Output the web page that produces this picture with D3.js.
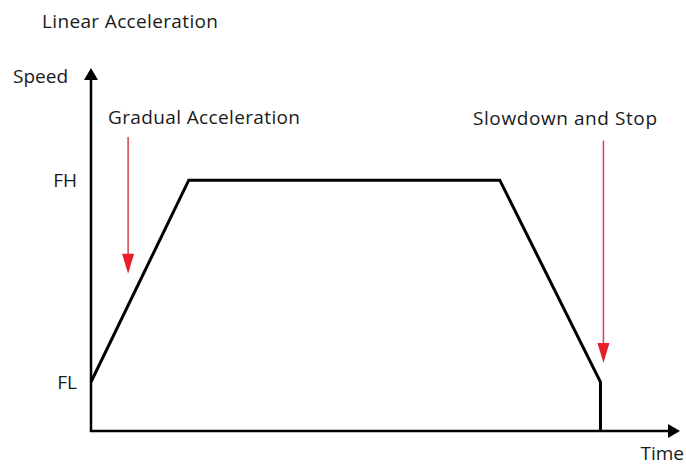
<!DOCTYPE html>
<html>
<head>
<meta charset="utf-8">
<script src="https://cdn.jsdelivr.net/npm/d3@7"></script>
<style>
  body { margin: 0; background: #fff; }
  text { font-family: "Open Sans", "Noto Sans", sans-serif; fill: #1a1a1a; font-size: 19px; }
</style>
</head>
<body>
<svg id="chart"></svg>
<script>
// speed profile (time 0..100, speed 0..100)
const profileTime = [0, 16.6, 69.4, 86.5, 86.5];
const profileSpeed = [13.5, 69.1, 69.1, 13.5, 0];
const tickLabels = ["FL", "FH"];
const tickValues = [13.5, 69.1];
const notes = ["Gradual Acceleration", "Slowdown and Stop"];
const noteTime = [6.3, 87.0];       // x of red arrows
const noteFrom = [81, 80];          // arrow start (speed)
const noteTo = [43.3, 18.7];        // arrow tip (speed)

const W = 686, H = 466;
const svg = d3.select("#chart").attr("width", W).attr("height", H);

const x = d3.scaleLinear().domain([0, 100]).range([91, 680]);
const y = d3.scaleLinear().domain([0, 100]).range([431, 68]);

// title
svg.append("text")
    .attr("x", 42).attr("y", 28)
    .attr("textLength", 176)
    .text("Linear Acceleration");

// axes
svg.append("line")
    .attr("x1", x(0)).attr("x2", x(0))
    .attr("y1", y(0) + 1).attr("y2", y(100) + 10)
    .attr("stroke", "#000").attr("stroke-width", 2.5);
svg.append("path")
    .attr("d", `M${x(0) - 7},${y(100) + 12}L${x(0)},${y(100)}L${x(0) + 7},${y(100) + 12}Z`)
    .attr("fill", "#000");

svg.append("line")
    .attr("x1", x(0) - 1).attr("x2", x(100) - 10)
    .attr("y1", y(0)).attr("y2", y(0))
    .attr("stroke", "#000").attr("stroke-width", 2.5);
svg.append("path")
    .attr("d", `M${x(100) - 12},${y(0) - 7}L${x(100)},${y(0)}L${x(100) - 12},${y(0) + 7}Z`)
    .attr("fill", "#000");

svg.append("text")
    .attr("x", 13).attr("y", 83)
    .text("Speed");
svg.append("text")
    .attr("x", 684).attr("y", 460)
    .attr("text-anchor", "end")
    .text("Time");

// speed ticks
svg.selectAll(".tick-label")
    .data(tickLabels)
    .enter().append("text")
    .attr("class", "tick-label")
    .attr("x", 77)
    .attr("y", (d, i) => y(tickValues[i]))
    .attr("dy", "0.36em")
    .attr("text-anchor", "end")
    .text(d => d);

// profile
const line = d3.line()
    .x(d => x(d[0]))
    .y(d => y(d[1]));
svg.append("path")
    .datum(profileTime.map((t, i) => [t, profileSpeed[i]]))
    .attr("d", line)
    .attr("fill", "none")
    .attr("stroke", "#000")
    .attr("stroke-width", 3)
    .attr("stroke-linejoin", "miter");

// notes with red arrows
notes.forEach((n, i) => {
    const ax = x(noteTime[i]);
    const y0 = y(noteFrom[i]), y1 = y(noteTo[i]);
    svg.append("line")
        .attr("x1", ax).attr("x2", ax)
        .attr("y1", y0).attr("y2", y1 - 18)
        .attr("stroke", "#d2414f").attr("stroke-width", 1.5);
    svg.append("path")
        .attr("d", `M${ax - 6},${y1 - 20}L${ax},${y1}L${ax + 6},${y1 - 20}Z`)
        .attr("fill", "#e5202b");
});

svg.append("text")
    .attr("x", 108).attr("y", 124)
    .attr("textLength", 192)
    .text(notes[0]);
svg.append("text")
    .attr("x", 473).attr("y", 125)
    .attr("textLength", 184)
    .text(notes[1]);
</script>
</body>
</html>
